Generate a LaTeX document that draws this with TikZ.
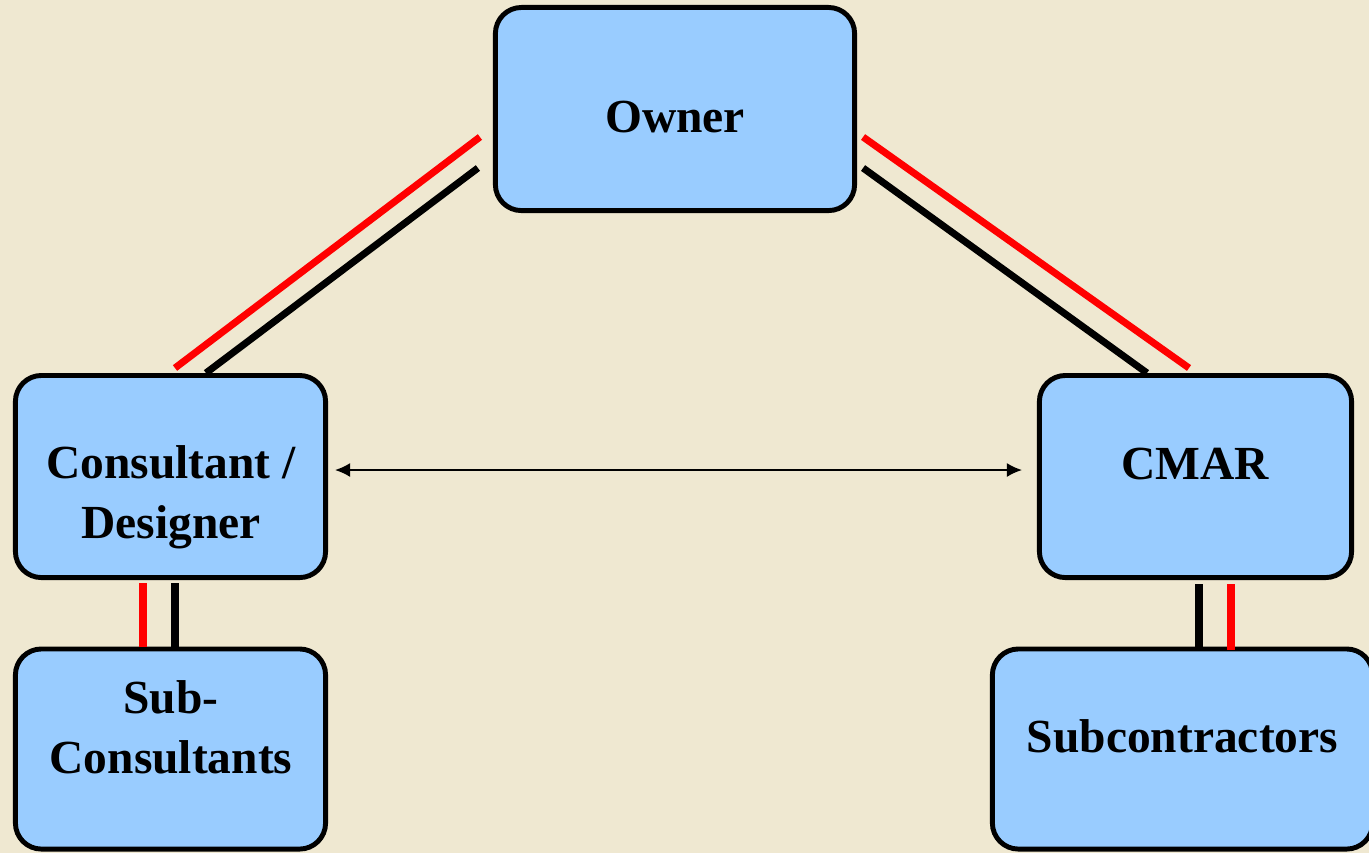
\documentclass[tikz,border=0pt]{standalone}
\usepackage{fontspec}
\setmainfont{Liberation Serif}
\usepackage{xcolor}
\usetikzlibrary{arrows.meta, calc, positioning}

\definecolor{paper}{RGB}{239,232,209}
\definecolor{boxblue}{RGB}{153,204,255}

\tikzset{
  party/.style={draw, fill=boxblue, line width=1.4pt, rounded corners=0.26cm, inner sep=0pt},
  partytext/.style={font=\fontsize{13.5}{17}\selectfont\bfseries, align=center, inner sep=0pt},
  redlink/.style={red, line width=2pt},
  blacklink/.style={black, line width=2pt},
  talk/.style={{Latex[length=4.3pt,width=4pt]}-{Latex[length=4.3pt,width=4pt]}, line width=0.45pt}
}

\begin{document}
\begin{tikzpicture}[x=0.01cm, y=-0.01cm]
                        \useasboundingbox (0,0) rectangle (1369,853);
                        \fill[paper] (0,0) rectangle (1369,853);
                        % boxes
                        \node[party, minimum width=3.59cm, minimum height=2.03cm] (owner) at (675, 109) {};
                        \node[party, minimum width=3.10cm, minimum height=2.02cm] (consultant) at (170.5, 476.5) {};
                        \node[party, minimum width=3.12cm, minimum height=2.02cm] (cmar) at (1195.5, 476.5) {};
                        \node[party, minimum width=3.10cm, minimum height=2.00cm] (subcons) at (170.5, 749) {};
                        \node[party, minimum width=3.80cm, minimum height=2.00cm] (subcontr) at (1182.5, 749) {};
                        \node[partytext] (ownertext) at (675, 116.5) {Owner};
                        \node[partytext] (consultanttext) at (171, 497) {Consultant /\\Designer};
                        \node[partytext] (cmartext) at (1195, 463.5) {CMAR};
                        \node[partytext] (subconstext) at (171, 727) {Sub-\\Consultants};
                        \node[partytext] (subcontrtext) at (1182.5, 736) {Subcontractors};
                        % links
                        \draw[redlink] ($(owner.west)+(-13,28)$) -- ($(consultant.north)+(4.5,-5)$);
                        \draw[blacklink] ($(owner.west)+(-15,59)$) -- ($(consultant.north)+(35.5,0)$);
                        \draw[redlink] ($(owner.east)+(6,28)$) -- ($(cmar.north)+(-6.5,-5)$);
                        \draw[blacklink] ($(owner.east)+(6,59)$) -- ($(cmar.north)+(-48.5,0)$);
                        \draw[redlink] ($(consultant.south)+(-27.5,3)$) -- ($(subcons.north)+(-27.5,0)$);
                        \draw[blacklink] ($(consultant.south)+(4.5,3)$) -- ($(subcons.north)+(4.5,0)$);
                        \draw[blacklink] ($(cmar.south)+(3.5,4)$) -- ($(subcontr.north)+(16.5,3)$);
                        \draw[redlink] ($(cmar.south)+(35.5,4)$) -- ($(subcontr.north)+(48.5,3)$);
                        \draw[talk] ($(consultant.east)+(7,-6.5)$) -- ($(cmar.west)+(-15,-6.5)$);
                    \end{tikzpicture}
\end{document}
